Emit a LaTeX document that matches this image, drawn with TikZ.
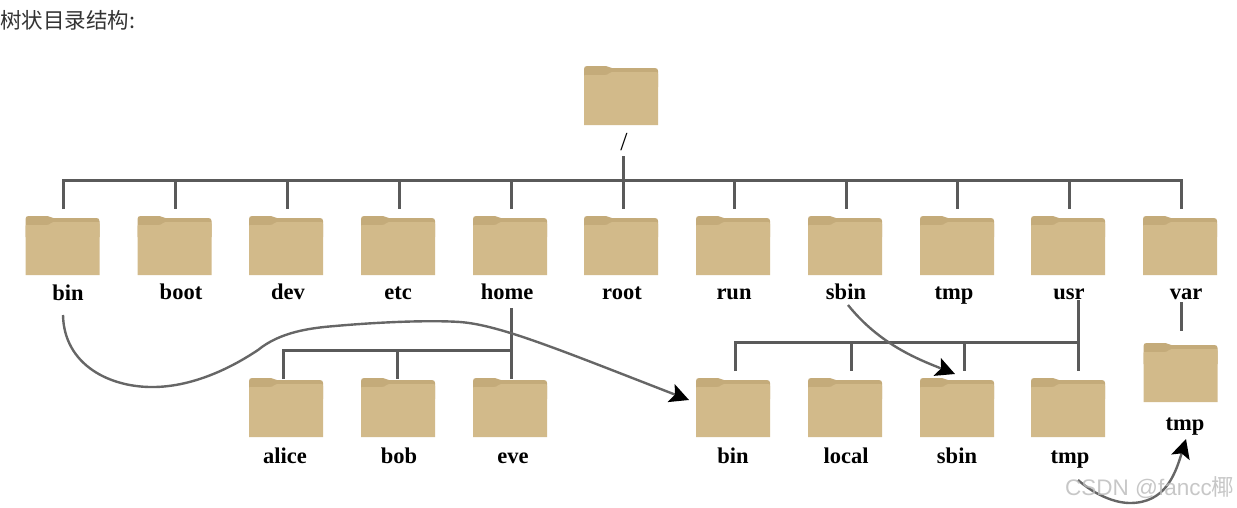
\documentclass[tikz,border=0pt]{standalone}
\usepackage{fontspec}
\setmainfont{Liberation Serif}
\newfontfamily\cjkf{Noto Sans CJK SC}
\newfontfamily\wmf{Liberation Sans}
\usetikzlibrary{arrows.meta}
\definecolor{folderbody}{HTML}{D2BA8A}
\definecolor{foldertab}{HTML}{C4AB7A}
\definecolor{treeline}{HTML}{5A5A5A}
\definecolor{linkline}{HTML}{666666}
\tikzset{
  x=1pt,y=-1pt,
  folderbox/.style={rectangle,minimum width=74pt,minimum height=60pt,inner sep=0pt,outer sep=0pt},
  flabel/.style={font=\fontsize{22.5}{22}\selectfont\bfseries,inner sep=0pt,text=black,anchor=base},
  treeln/.style={draw=treeline,line width=3pt},
  linkln/.style={draw=linkline,line width=2.4pt,-{Stealth[length=19pt,width=19pt,inset=4pt,color=black]}},
}
\newcommand{\folderat}[3]{%
  \node[folderbox] (#1) at (#2,#3) {};
  \begin{scope}[shift={(#2-37,#3-30)}]
    \fill[foldertab] (0,22) -- (0,4) .. controls (0,2) and (1,1) .. (3,1) -- (22,1)
      .. controls (25,1) and (25,3) .. (28,3) -- (71,3) .. controls (73,3) and (74,4) .. (74,6) -- (74,22) -- cycle;
    \fill[folderbody] (0,60) -- (0,11) .. controls (0,10) and (1,10) .. (2,10) -- (21,10)
      .. controls (25,10) and (25,7) .. (28,7) -- (72,7) .. controls (73,7) and (74,7) .. (74,9) -- (74,60) -- cycle;
  \end{scope}}
\begin{document}
\begin{tikzpicture}
\useasboundingbox (0,0) rectangle (1237,507);
% title
\node[anchor=west,inner sep=0pt,text=black!80,font=\cjkf\fontsize{21.5}{22}\selectfont] (title) at (0,20) {树状目录结构:};
% folders
\folderat{root}{621}{95}
\folderat{fbin}{62.5}{245}
\folderat{fboot}{174.5}{245}
\folderat{fdev}{286}{245}
\folderat{fetc}{398}{245}
\folderat{fhome}{510}{245}
\folderat{froot}{621}{245}
\folderat{frun}{733}{245}
\folderat{fsbin}{845}{245}
\folderat{ftmp}{957}{245}
\folderat{fusr}{1068}{245}
\folderat{fvar}{1180}{245}
\folderat{falice}{286}{407}
\folderat{fbob}{398}{407}
\folderat{feve}{510}{407}
\folderat{ubin}{733}{407}
\folderat{ulocal}{845}{407}
\folderat{usbin}{957}{407}
\folderat{utmp}{1068}{407}
\folderat{vtmp}{1180.5}{372}
% labels
\node[flabel,font=\fontsize{26}{26}\selectfont] (lroot) at (624,150) {/};
\node[flabel] (lbin) at (68,300) {bin};
\node[flabel] (lboot) at (181,299) {boot};
\node[flabel] (ldev) at (288,299) {dev};
\node[flabel] (letc) at (398,299) {etc};
\node[flabel] (lhome) at (507,299) {home};
\node[flabel] (lrootd) at (622,299) {root};
\node[flabel] (lrun) at (734,299) {run};
\node[flabel] (lsbin) at (846,299) {sbin};
\node[flabel] (ltmp) at (954,299) {tmp};
\node[flabel] (lusr) at (1069,299) {usr};
\node[flabel] (lvar) at (1186,299) {var};
\node[flabel] (lalice) at (285,463) {alice};
\node[flabel] (lbob) at (399,463) {bob};
\node[flabel] (leve) at (513,463) {eve};
\node[flabel] (lubin) at (733,463) {bin};
\node[flabel] (ulocalL) at (846,463) {local};
\node[flabel] (lusbin) at (957,463) {sbin};
\node[flabel] (lutmp) at (1070,463) {tmp};
\node[flabel] (lvtmp) at (1185,430) {tmp};
% tree: top bus
\coordinate (busL) at (63,180);
\coordinate (busR) at (1181,180);
\coordinate (rootTop) at (623,156);
\coordinate (rootBot) at (623,209);
\draw[treeln] (rootTop) -- (rootBot);
\draw[treeln] (63,209) -- (busL) -- (busR) -- (1181,209);
\foreach \xx in {175,287,399,511,734,846,957,1069}{
  \draw[treeln] (\xx,180) -- (\xx,209);
}
% home subtree
\coordinate (homeTop) at (511,308);
\coordinate (homeBus) at (511,350);
\coordinate (homeBusL) at (283,350);
\draw[treeln] (homeTop) -- (511,379);
\draw[treeln] (283,379) -- (homeBusL) -- (homeBus);
\draw[treeln] (397,350) -- (397,379);
% usr subtree
\coordinate (usrTop) at (1078,300);
\coordinate (usrBus) at (1078,342);
\coordinate (usrBusL) at (735,342);
\draw[treeln] (usrTop) -- (1078,371);
\draw[treeln] (735,371) -- (usrBusL) -- (usrBus);
\draw[treeln] (851,342) -- (851,371);
\draw[treeln] (964,342) -- (964,371);
% var subtree
\draw[treeln] (1181,302) -- (1181,331);
% links
\coordinate (binStart) at (63,315);
\coordinate (binEnd) at (689,400);
\draw[linkln] (binStart) .. controls (64,365) and (110,388) .. (155,387)
  .. controls (200,386) and (240,362) .. (258,350)
  .. controls (280,332) and (310,328) .. (335,326)
  .. controls (380,322) and (430,320) .. (460,322)
  .. controls (500,325) and (560,350) .. (binEnd);
\coordinate (sbinStart) at (848,305);
\coordinate (sbinEnd) at (955,374);
\draw[linkln] (sbinStart) .. controls (880,345) and (920,360) .. (sbinEnd);
\coordinate (tmpStart) at (1078,480);
\coordinate (tmpEnd) at (1186,439);
\draw[linkln] (tmpStart) .. controls (1095,495) and (1115,503) .. (1130,503)
  .. controls (1165,503) and (1175,475) .. (tmpEnd);
% watermark
\node[anchor=west,inner sep=0pt,text=gray!55,opacity=.8,font=\wmf\fontsize{22.5}{22}\selectfont] (wm) at (1065,488) {CSDN @fancc{\cjkf 椰}};
\end{tikzpicture}
\end{document}
